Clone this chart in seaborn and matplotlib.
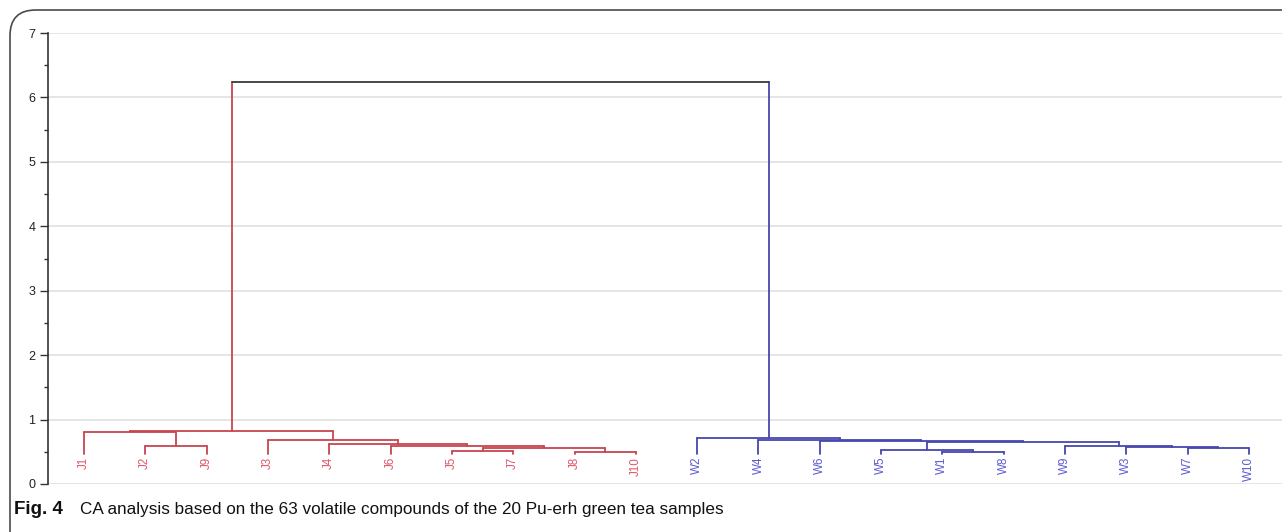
import numpy as np
import pandas as pd
import matplotlib
matplotlib.use("Agg")
import matplotlib.pyplot as plt
from matplotlib.patches import FancyBboxPatch
import seaborn as sns

# ---- data -------------------------------------------------------------
leaf_order = ["J1", "J2", "J9", "J3", "J4", "J6", "J5", "J7", "J8", "J10",
              "W2", "W4", "W6", "W5", "W1", "W8", "W9", "W3", "W7", "W10"]

# merges: (node name, left child, right child, dissimilarity)
merge_names = ["J2J9", "J1g", "J5J7", "J8J10", "Jx2", "Jx1", "Jx0", "Jr1", "Jroot",
               "W1W8", "Wy4", "W7W10", "Wy6", "Wy5", "Wy3", "Wy2", "Wy1", "Wroot",
               "root"]
merge_left = ["J2", "J1", "J5", "J8", "J5J7", "J6", "J4", "J3", "J1g",
              "W1", "W5", "W7", "W3", "W9", "Wy4", "W6", "W4", "W2",
              "Jroot"]
merge_right = ["J9", "J2J9", "J7", "J10", "J8J10", "Jx2", "Jx1", "Jx0", "Jr1",
               "W8", "W1W8", "W10", "W7W10", "Wy6", "Wy5", "Wy3", "Wy2", "Wy1",
               "Wroot"]
merge_height = [0.59, 0.80, 0.51, 0.49, 0.553, 0.595, 0.62, 0.69, 0.83,
                0.50, 0.53, 0.553, 0.575, 0.59, 0.65, 0.67, 0.68, 0.72,
                6.24]

leaf_base = 0.47
y_ticks = [0, 1, 2, 3, 4, 5, 6, 7]

caption_bold = "Fig. 4"
caption_text = "CA analysis based on the 63 volatile compounds of the 20 Pu-erh green tea samples"

# ---- styling ------------------------------------------------------------
line_colors = {"J": "#C8454F", "W": "#4747AE", "top": "#3A3A3A"}
label_colors = {"J": "#E0566A", "W": "#5B5BD2"}

# ---- build dendrogram segments -----------------------------------------
pos = {name: float(i) for i, name in enumerate(leaf_order)}
hgt = {name: leaf_base for name in leaf_order}
grp = {name: name[0] for name in leaf_order}

rows = []
seg = 0
for name, l, r, h in zip(merge_names, merge_left, merge_right, merge_height):
    pos[name] = (pos[l] + pos[r]) / 2
    hgt[name] = h
    grp[name] = grp[l] if grp[l] == grp[r] else "top"
    for child in (l, r):
        rows += [(pos[child], hgt[child], seg, grp[child]),
                 (pos[child], h, seg, grp[child])]
        seg += 1
    rows += [(pos[l], h, seg, grp[name]), (pos[r], h, seg, grp[name])]
    seg += 1

segs = pd.DataFrame(rows, columns=["x", "y", "seg", "group"])

# ---- figure -------------------------------------------------------------
sns.set_theme(style="white")
plt.rcParams["font.family"] = ["Liberation Sans", "DejaVu Sans"]

W, H = 1282, 532
fig = plt.figure(figsize=(W / 100, H / 100), dpi=100)
ax = fig.add_axes([48 / W, 1 - 484 / H, (W - 48) / W, (484 - 33) / H])

for v in y_ticks:
    ax.axhline(v, color="#DEDEDE", lw=1.1, zorder=0)

sns.lineplot(data=segs, x="x", y="y", units="seg", hue="group",
             palette=line_colors, estimator=None, sort=False,
             legend=False, lw=1.3, ax=ax)

for i, name in enumerate(leaf_order):
    ax.text(i, 0.42, name, rotation=90, ha="center", va="top",
            fontsize=8.4, color=label_colors[name[0]])

ax.set_xlim(-0.587, 19.538)
ax.set_ylim(0, 7)
ax.set_xlabel("")
ax.set_ylabel("")
ax.set_xticks([])
ax.set_yticks(y_ticks)
ax.set_yticks(np.arange(0.5, 7, 1.0), minor=True)
ax.tick_params(axis="y", which="major", direction="out", length=6,
               width=1, color="#333333", labelsize=9, pad=3,
               labelcolor="#222222", left=True)
ax.tick_params(axis="y", which="minor", direction="out", length=3,
               width=1, color="#333333", left=True)
for side in ("top", "right", "bottom"):
    ax.spines[side].set_visible(False)
ax.spines["left"].set_color("#333333")
ax.spines["left"].set_linewidth(1.2)

# outer figure frame with rounded corner
frame = FancyBboxPatch((10 / W, -0.2), 1.2, 1 - 10 / H + 0.2,
                       boxstyle="round,pad=0,rounding_size=0.02",
                       transform=fig.transFigure, fill=False,
                       ec="#4A4A4A", lw=1.2, mutation_aspect=W / H)
fig.add_artist(frame)

fig.text(14 / W, 1 - 514 / H, caption_bold, fontsize=13.5, fontweight="bold",
         ha="left", va="baseline", color="#111111")
fig.text(80 / W, 1 - 514 / H, caption_text, fontsize=12.3,
         ha="left", va="baseline", color="#111111")

fig.savefig("out.png", dpi=100, facecolor="white")
